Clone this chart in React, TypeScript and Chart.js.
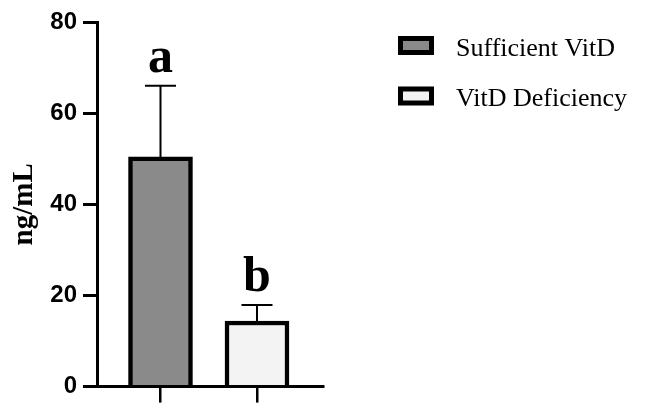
import { useEffect, useRef } from 'react';
import { Chart, registerables } from 'chart.js';

Chart.register(...registerables);

// ---- data ----
const groups = ['Sufficient VitD', 'VitD Deficiency'];
const groupPositions = [1, 2];
const means = [50.4, 14.4];
const sds = [15.6, 3.5];
const letters = ['a', 'b'];
const fillColors = ['#8a8a8a', '#f3f3f3'];
const yMin = 0;
const yMax = 80;
const yStep = 20;
const xMin = 0.342;
const xMax = 2.684;

const errorBarPlugin = {
  id: 'errorBars',
  afterDatasetsDraw(chart: any) {
    const ctx = chart.ctx;
    const yScale = chart.scales.y;
    ctx.save();
    chart.data.datasets.forEach((_ds: any, i: number) => {
      const el = chart.getDatasetMeta(i).data[0];
      if (!el) return;
      const x = el.x;
      const base = yScale.getPixelForValue(means[i]);
      const top = yScale.getPixelForValue(means[i] + sds[i]);
      ctx.strokeStyle = '#000';
      ctx.lineWidth = 2;
      ctx.beginPath();
      ctx.moveTo(x, base);
      ctx.lineTo(x, top);
      ctx.moveTo(x - 15.5, top);
      ctx.lineTo(x + 15.5, top);
      ctx.stroke();
      ctx.fillStyle = '#000';
      ctx.font = 'bold 50px "Liberation Serif"';
      ctx.textAlign = 'center';
      ctx.textBaseline = 'alphabetic';
      ctx.fillText(letters[i], x, top - 14);
    });
    ctx.restore();
  },
};

const legendPlugin = {
  id: 'customLegend',
  afterDraw(chart: any) {
    const ctx = chart.ctx;
    ctx.save();
    chart.data.datasets.forEach((ds: any, i: number) => {
      const y0 = 36 + 50.5 * i;
      ctx.fillStyle = ds.backgroundColor;
      ctx.fillRect(398, y0, 36, 19);
      ctx.strokeStyle = '#000';
      ctx.lineWidth = 5;
      ctx.strokeRect(400.5, y0 + 2.5, 31, 14);
      ctx.fillStyle = '#000';
      ctx.font = '26px "Liberation Serif"';
      ctx.textAlign = 'left';
      ctx.textBaseline = 'alphabetic';
      ctx.fillText(ds.label, 456, 55.5 + 50 * i);
    });
    ctx.restore();
  },
};

export default function App() {
  const ref = useRef<HTMLCanvasElement | null>(null);

  useEffect(() => {
    if (!ref.current) return;
    const chart = new Chart(ref.current, {
      type: 'bar',
      data: {
        datasets: groups.map((g, i) => ({
          label: g,
          data: [{ x: groupPositions[i], y: means[i] }],
          backgroundColor: fillColors[i],
          borderColor: '#000',
          borderWidth: 4.5,
          borderSkipped: 'bottom',
          barThickness: 64,
          grouped: false,
        })),
      } as any,
      options: {
        animation: false,
        responsive: false,
        events: [],
        layout: { padding: { top: 22, right: 323, left: 0, bottom: 0 } },
        plugins: {
          legend: { display: false },
          tooltip: { enabled: false },
        },
        scales: {
          x: {
            type: 'linear',
            min: xMin,
            max: xMax,
            offset: false,
            afterBuildTicks: (s: any) => {
              s.ticks = groupPositions.map((v) => ({ value: v }));
            },
            afterFit: (s: any) => {
              s.height = 14;
            },
            ticks: { display: false },
            grid: {
              offset: false,
              drawOnChartArea: false,
              drawTicks: true,
              tickLength: 16,
              lineWidth: 2.5,
              color: '#000',
            },
            border: { display: true, color: '#000', width: 3 },
          },
          y: {
            min: yMin,
            max: yMax,
            afterFit: (s: any) => {
              s.width = 97;
            },
            ticks: {
              stepSize: yStep,
              color: '#000',
              padding: 6,
              font: { family: 'Liberation Sans', weight: 'bold', size: 24 },
            },
            grid: {
              drawOnChartArea: false,
              tickLength: 14,
              lineWidth: 3,
              color: '#000',
            },
            border: { display: true, color: '#000', width: 3 },
            title: {
              display: true,
              text: 'ng/mL',
              color: '#000',
              font: { family: 'Liberation Serif', weight: 'bold', size: 29 },
              padding: { top: 7, bottom: 0 },
            },
          },
        },
      } as any,
      plugins: [errorBarPlugin, legendPlugin],
    });
    return () => chart.destroy();
  }, []);

  return (
    <div style={{ position: 'fixed', left: 0, top: 0, width: 646, height: 407, background: '#fff' }}>
      <canvas ref={ref} width={646} height={407} style={{ width: 646, height: 407, display: 'block' }} />
    </div>
  );
}
